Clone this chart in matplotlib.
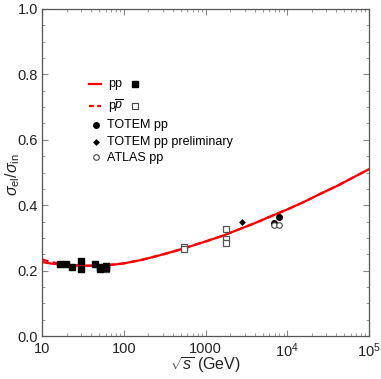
import numpy as np
import matplotlib
matplotlib.use("Agg")
import matplotlib.pyplot as plt
from matplotlib.ticker import LogLocator, NullFormatter, MultipleLocator
from matplotlib.lines import Line2D

plt.rcParams['font.family'] = ['Liberation Sans', 'DejaVu Sans']
plt.rcParams['mathtext.fontset'] = 'custom'
plt.rcParams['mathtext.rm'] = 'Liberation Sans'
plt.rcParams['mathtext.it'] = 'Liberation Sans:italic'

# model curves
curve_s = [10, 12.6, 16, 20, 25, 32, 40, 50, 63, 80, 100, 160, 250, 400, 630, 1000, 1600,
           2500, 4000, 6300, 10000, 16000, 25000, 40000, 63000, 100000]
curve_pp = [0.226, 0.222, 0.219, 0.217, 0.2155, 0.215, 0.215, 0.2155, 0.217, 0.219, 0.222, 0.232,
            0.244, 0.258, 0.273, 0.289, 0.306, 0.325, 0.345, 0.366, 0.387, 0.410, 0.434,
            0.458, 0.484, 0.510]
curve_ppbar = [0.234, 0.227, 0.222, 0.218, 0.216, 0.215, 0.215, 0.2155, 0.217, 0.219, 0.222, 0.232,
               0.244, 0.258, 0.273, 0.289, 0.306, 0.325, 0.345, 0.366, 0.387, 0.410, 0.434,
               0.458, 0.484, 0.510]

# data
pp_s = [16.4, 19.6, 23.0, 30.2, 30.2, 44.9, 51.6, 51.6, 61.1, 61.1]
pp_r = [0.219, 0.219, 0.210, 0.228, 0.205, 0.219, 0.210, 0.205, 0.213, 0.208]
ppbar_s = [61.1, 544, 544, 1790, 1790, 1790]
ppbar_r = [0.205, 0.273, 0.265, 0.327, 0.297, 0.285]
totem_s = [6900, 8000]
totem_r = [0.347, 0.364]
totem_pre_s = [2760]
totem_pre_r = [0.349]
atlas_s = [6900, 8000]
atlas_r = [0.338, 0.340]

xticks = [10, 100, 1000, 1e4, 1e5]
xticklabels = ['10', '100', '1000', r'$10^4$', r'$10^5$']
yticks = [0.0, 0.2, 0.4, 0.6, 0.8, 1.0]
yticklabels = ['0.0', '0.2', '0.4', '0.6', '0.8', '1.0']

fig = plt.figure(figsize=(3.81, 3.79), dpi=100)
ax = fig.add_axes([42/381, 1-336/379, 327/381, 327/379])

ax.plot(curve_s, curve_ppbar, color='red', lw=1.6, ls=(0, (3, 2)))
ax.plot(curve_s, curve_pp, color='red', lw=1.6)

ax.plot(ppbar_s, ppbar_r, 's', mfc='white', mec='#555555', ms=4.5, mew=0.9)
ax.plot(pp_s, pp_r, 's', color='black', ms=5, mec='black')
ax.plot(totem_s, totem_r, 'o', color='black', ms=4)
ax.plot(totem_pre_s, totem_pre_r, 'D', color='black', ms=3.5, mew=0)
ax.plot(atlas_s, atlas_r, 'o', mfc='white', mec='#444444', ms=4, mew=0.8)

ax.set_xscale('log')
ax.set_xlim(10, 1e5)
ax.set_ylim(0, 1.0)
ax.set_xticks(xticks)
ax.set_xticklabels(xticklabels)
ax.xaxis.set_minor_locator(LogLocator(base=10, subs=np.arange(2, 10)))
ax.xaxis.set_minor_formatter(NullFormatter())
ax.set_yticks(yticks)
ax.set_yticklabels(yticklabels)
ax.yaxis.set_minor_locator(MultipleLocator(0.05))

ax.tick_params(which='both', direction='in', top=True, right=True, color='#888888',
               labelsize=10.5, labelcolor='#222222')
ax.tick_params(axis='x', pad=4)
ax.tick_params(axis='y', pad=3)
ax.tick_params(which='major', length=4, width=0.8)
ax.tick_params(which='minor', length=2, width=0.6)
for s in ax.spines.values():
    s.set_color('#555555')
    s.set_linewidth(0.9)

ax.set_xlabel(r'$\sqrt{s}$ (GeV)', fontsize=11.5, color='#222222', va='center')
ax.xaxis.set_label_coords(0.5, -(365 - 336) / 327)
ax.set_ylabel(r'$\sigma_{\rm el}/\sigma_{\rm in}$', fontsize=11.5, color='#222222', va='center')
ax.yaxis.set_label_coords((13 - 42) / 327, 0.5 - (175 - 172.5) / 327)

# custom legend
fs = 9
def fx(px):
    return px / 381
def fy(py):
    return 1 - py / 379
fig.add_artist(Line2D([fx(89), fx(101)], [fy(84), fy(84)], color='red', lw=1.6))
fig.text(fx(108), fy(84), 'pp', fontsize=fs, va='center')
fig.add_artist(Line2D([fx(135)], [fy(84)], marker='s', color='black', ms=4.5))
fig.add_artist(Line2D([fx(89), fx(101)], [fy(106), fy(106)], color='red', lw=1.6, ls=(0, (2.2, 1.5))))
fig.text(fx(108), fy(106), r'p$\overline{p}$', fontsize=fs, va='center')
fig.add_artist(Line2D([fx(135)], [fy(106)], marker='s', mfc='white', mec='#444444', ms=4, mew=0.8))
fig.add_artist(Line2D([fx(96)], [fy(125)], marker='o', color='black', ms=4))
fig.text(fx(107), fy(125), 'TOTEM pp', fontsize=fs, va='center')
fig.add_artist(Line2D([fx(96)], [fy(142)], marker='D', color='black', ms=3.5, mew=0))
fig.text(fx(107), fy(142), 'TOTEM pp preliminary', fontsize=fs, va='center')
fig.add_artist(Line2D([fx(96)], [fy(157)], marker='o', mfc='white', mec='#444444', ms=4, mew=0.8))
fig.text(fx(107), fy(158), 'ATLAS pp', fontsize=fs, va='center')

fig.savefig('out.png', dpi=100)
